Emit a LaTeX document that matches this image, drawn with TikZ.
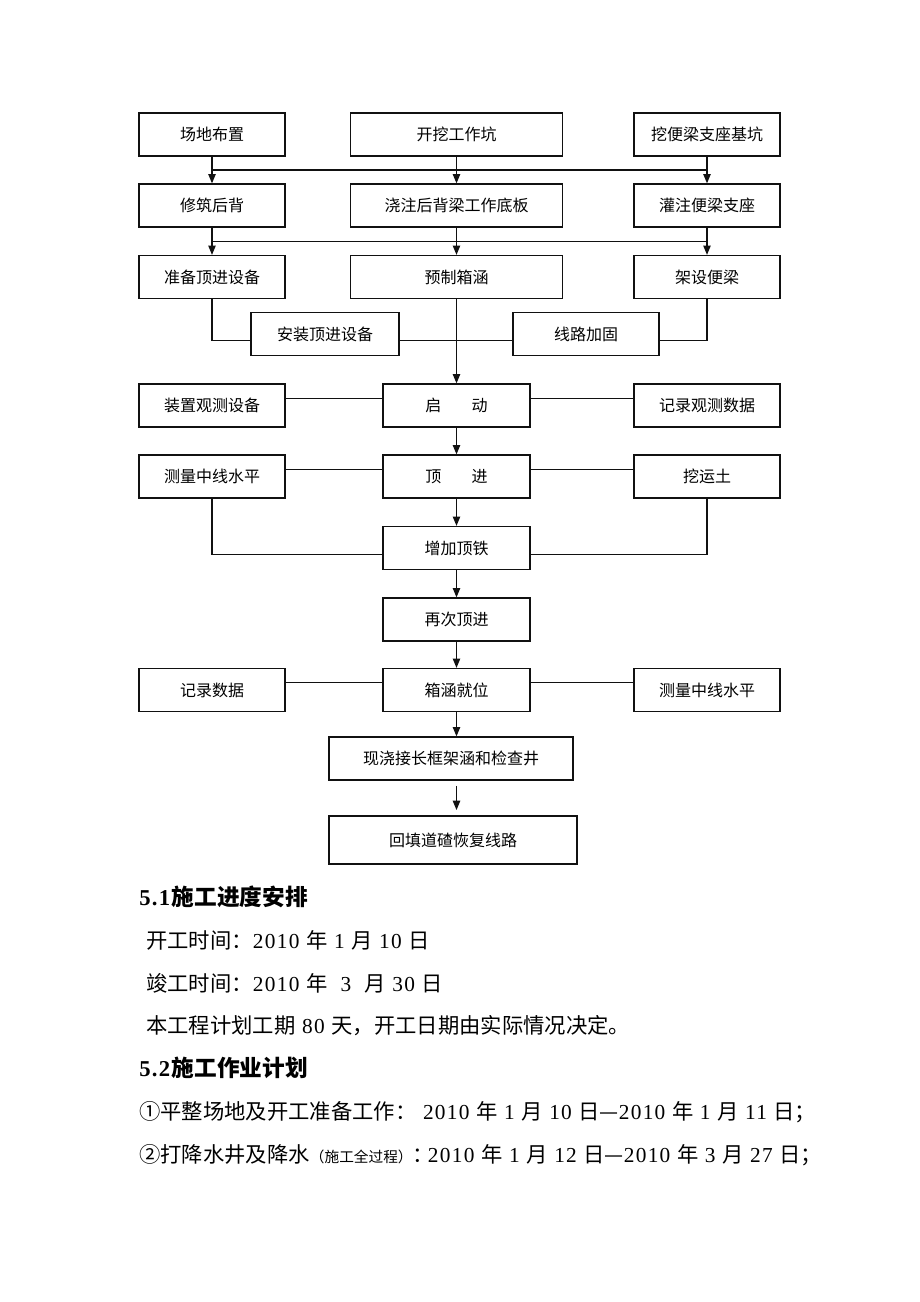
\documentclass[tikz,border=0pt]{standalone}
\usepackage{fontspec}
\setmainfont{Liberation Serif}[LetterSpace=6]
\newfontfamily\cjk{Noto Sans CJK SC}
\usetikzlibrary{arrows.meta,calc}
\definecolor{ink}{HTML}{111111}
\newcommand{\zh}[1]{{\cjk #1}}
\newcommand{\zhb}[1]{{\cjk\bfseries #1}}
\newcommand{\zhn}[1]{\makebox[0.72em][l]{\cjk #1}}
\tikzset{
  box/.style={draw=ink, line width=0.9pt, minimum height=32.25pt, inner sep=0pt,
    font=\cjk\fontsize{12}{12}\selectfont},
  sidebox/.style={box, minimum width=109.5pt},
  midbox/.style={box, minimum width=159pt},
  stepbox/.style={box, minimum width=110.25pt},
  flow/.style={-{Triangle[length=7pt,width=5.5pt]}, line width=1pt, draw=ink},
  link/.style={line width=0.8pt, draw=ink},
  txt/.style={anchor=west, inner sep=0pt, font=\fontsize{16}{16}\selectfont}
}
\begin{document}
\begin{tikzpicture}[x=0.75pt,y=-0.75pt]
  \fill[white] (0,0) rectangle (920,1302);
  \useasboundingbox (0,0) rectangle (920,1302);
  % first three rows
  \node[sidebox] (site)    at (212,134.5) {场地布置};
  \node[midbox]  (pit)     at (456.5,134.5) {开挖工作坑};
  \node[sidebox] (seatpit) at (707,134.5) {挖便梁支座基坑};
  \node[sidebox] (back)    at (212,205.5) {修筑后背};
  \node[midbox]  (slab)    at (456.5,205.5) {浇注后背梁工作底板};
  \node[sidebox] (seat)    at (707,205.5) {灌注便梁支座};
  \node[sidebox] (jackprep) at (212,277) {准备顶进设备};
  \node[midbox]  (culvert) at (456.5,277) {预制箱涵};
  \node[sidebox] (beam)    at (707,277) {架设便梁};
  \node[box, minimum width=111pt] (jackinst) at (325,334) {安装顶进设备};
  \node[sidebox] (track)   at (586,334) {线路加固};
  % jacking
  \node[sidebox]  (obsdev)  at (212,405.5) {装置观测设备};
  \node[stepbox]  (start)   at (456.5,405.5) {启\hspace{1.9em}动};
  \node[sidebox]  (obsrec)  at (707,405.5) {记录观测数据};
  \node[sidebox]  (survA)   at (212,476.5) {测量中线水平};
  \node[stepbox]  (push)    at (456.5,476.5) {顶\hspace{1.9em}进};
  \node[sidebox]  (dig)     at (707,476.5) {挖运土};
  \node[stepbox]  (addiron) at (456.5,548) {增加顶铁};
  \node[stepbox]  (repush)  at (456.5,619.5) {再次顶进};
  \node[sidebox]  (record)  at (212,690) {记录数据};
  \node[stepbox]  (place)   at (456.5,690) {箱涵就位};
  \node[sidebox]  (survB)   at (707,690) {测量中线水平};
  \node[box, minimum width=183pt] (cast) at (451,758.5) {现浇接长框架涵和检查井};
  \node[box, minimum width=186pt, minimum height=36pt] (refill) at (453,840) {回填道碴恢复线路};

  % connectors
  \draw[flow] (site) -- (back);
  \draw[flow] (pit) -- (slab);
  \draw[flow] (seatpit) -- (seat);
  \draw[link] ($(site.south)!.5!(back.north)$) -- ($(seatpit.south)!.5!(seat.north)$);
  \draw[flow] (back) -- (jackprep);
  \draw[flow] (slab) -- (culvert);
  \draw[flow] (seat) -- (beam);
  \draw[link] ($(back.south)!.5!(jackprep.north)$) -- ($(seat.south)!.5!(beam.north)$);
  \draw[link] (jackprep.south) |- ([yshift=-4.9pt]jackinst.west);
  \draw[link] ([yshift=-4.9pt]jackinst.east) -- ([yshift=-4.9pt]jackinst.east -| culvert.south);
  \draw[link] ([yshift=-4.9pt]track.west) -- ([yshift=-4.9pt]track.west -| culvert.south);
  \draw[link] (beam.south) |- ([yshift=-4.9pt]track.east);
  \draw[flow] (culvert) -- (start);
  \draw[link] ([yshift=5.6pt]obsdev.east) -- ([yshift=5.6pt]start.west);
  \draw[link] ([yshift=5.6pt]start.east) -- ([yshift=5.6pt]obsrec.west);
  \draw[flow] (start) -- (push);
  \draw[link] ([yshift=5.6pt]survA.east) -- ([yshift=5.6pt]push.west);
  \draw[link] ([yshift=5.6pt]push.east) -- ([yshift=5.6pt]dig.west);
  \draw[link] (survA.south) |- ([yshift=-5pt]addiron.west);
  \draw[link] (dig.south) |- ([yshift=-5pt]addiron.east);
  \draw[flow] (push) -- (addiron);
  \draw[flow] (addiron) -- (repush);
  \draw[flow] (repush) -- (place);
  \draw[link] ([yshift=5.6pt]record.east) -- ([yshift=5.6pt]place.west);
  \draw[link] ([yshift=5.6pt]place.east) -- ([yshift=5.6pt]survB.west);
  \draw[flow] (place.south) -- (place.south |- cast.north);
  \draw[flow, shorten <=4pt, shorten >=4pt] (cast.south -| place.south) -- (refill.north -| place.south);

  % schedule text
  \node[txt, font=\fontsize{17}{17}\selectfont] (sec1) at (139,897) {\textbf{5.1}\zhb{施工进度安排}};
  \node[txt] (begin) at (146,940)  {\zh{开工时间：}2010 \zh{年} 1 \zh{月} 10 \zh{日}};
  \node[txt] (finish) at (146,983) {\zh{竣工时间：}2010 \zh{年}\ \ 3\ \ \zh{月} 30 \zh{日}};
  \node[txt] (span)  at (146,1026) {\zh{本工程计划工期} 80 \zh{天，开工日期由实际情况决定。}};
  \node[txt, font=\fontsize{17}{17}\selectfont] (sec2) at (139,1068) {\textbf{5.2}\zhb{施工作业计划}};
  \node[txt] (itemA) at (139,1112) {\zh{①平整场地及开工准备工作：}\hspace{0.3em}2010 \zh{年} 1 \zh{月} 10 \zh{日—}2010 \zh{年} 1 \zh{月} 11 \zh{日；}};
  \node[txt] (itemB) at (139,1155) {\zh{②打降水井及降水}{\fontsize{11}{11}\selectfont\zh{（施工全过程）}}\zhn{：}2010 \zh{年} 1 \zh{月} 12 \zh{日—}2010 \zh{年} 3 \zh{月} 27 \zh{日；}};
\end{tikzpicture}
\end{document}
